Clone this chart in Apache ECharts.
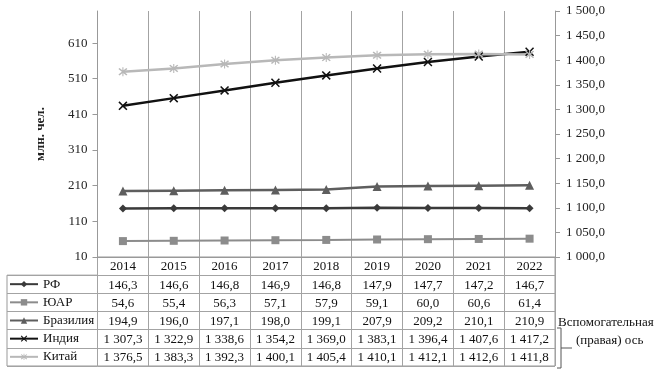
<!DOCTYPE html>
<html>
<head>
	<meta charset="UTF-8">
	<title></title>
	<style>
		html, body { margin: 0; padding: 0; background: #fff; }
		#chart { width: 659px; height: 373px; }
	</style>
	<script src="https://cdn.jsdelivr.net/npm/echarts@6/dist/echarts.min.js"></script>
</head>
<body>
	<div id="chart"></div>
	<script>
		var years = ['2014', '2015', '2016', '2017', '2018', '2019', '2020', '2021', '2022'];
		var rf = [146.3, 146.6, 146.8, 146.9, 146.8, 147.9, 147.7, 147.2, 146.7];
		var yuar = [54.6, 55.4, 56.3, 57.1, 57.9, 59.1, 60.0, 60.6, 61.4];
		var brazil = [194.9, 196.0, 197.1, 198.0, 199.1, 207.9, 209.2, 210.1, 210.9];
		var india = [1307.3, 1322.9, 1338.6, 1354.2, 1369.0, 1383.1, 1396.4, 1407.6, 1417.2];
		var china = [1376.5, 1383.3, 1392.3, 1400.1, 1405.4, 1410.1, 1412.1, 1412.6, 1411.8];
		var names = ['РФ', 'ЮАР', 'Бразилия', 'Индия', 'Китай'];
		var leftTicks = [10, 110, 210, 310, 410, 510, 610];

		var serif = 'Liberation Serif';
		var gridColor = '#a3a3a3';
		var rowH = 109 / 6;

		// russian number format: 1 307,3
		function ru(v) {
			var s = v.toFixed(1).split('.');
			return s[0].replace(/\B(?=(\d{3})+(?!\d))/g, ' ') + ',' + s[1];
		}

		var rows = [rf, yuar, brazil, india, china];
		var rowAxes = rows.map(function (arr, k) {
			return {
				type: 'category',
				gridIndex: 0,
				position: 'bottom',
				offset: rowH * (k + 1),
				data: arr.map(ru),
				axisLine: { show: false },
				axisTick: { show: false },
				splitLine: { show: false },
				axisLabel: { margin: 3, fontFamily: serif, fontSize: 13, color: '#111', lineHeight: 14, interval: 0 }
			};
		});

		var crossPath = 'path://M0,1.2L1.2,0L5,3.8L8.8,0L10,1.2L6.2,5L10,8.8L8.8,10L5,6.2L1.2,10L0,8.8L3.8,5Z';
		var starPath = 'path://M0,1.2L1.2,0L5,3.8L8.8,0L10,1.2L6.2,5L10,8.8L8.8,10L5,6.2L1.2,10L0,8.8L3.8,5ZM4.4,-1L5.6,-1L5.6,11L4.4,11Z';

		var myChart = echarts.init(document.getElementById('chart'));
		myChart.setOption({
			animation: false,
			grid: [
				{ left: 97.5, right: 104, top: 11, bottom: 116 },
				{ left: 97.5, right: 104, top: 257, bottom: 7, show: true, borderColor: '#999', borderWidth: 1 },
				{ left: 7, width: 90.5, top: 257 + rowH, bottom: 7, show: true, borderColor: '#999', borderWidth: 1 }
			],
			legend: {
				orient: 'vertical',
				left: 9,
				top: 257 + rowH + 2,
				padding: 0,
				itemWidth: 28,
				itemHeight: 8,
				itemGap: rowH - 14,
				textStyle: { fontFamily: serif, fontSize: 13, color: '#111', lineHeight: 14 },
				data: names
			},
			xAxis: [
				{
					type: 'category',
					gridIndex: 0,
					position: 'bottom',
					data: years,
					axisLine: { lineStyle: { color: '#999' } },
					axisTick: { show: false },
					splitLine: { show: true, lineStyle: { color: gridColor } },
					axisLabel: { margin: 3, fontFamily: serif, fontSize: 13, color: '#111', lineHeight: 14, interval: 0 }
				},
				{
					type: 'category',
					gridIndex: 1,
					data: years,
					axisLine: { show: false },
					axisTick: { show: false },
					axisLabel: { show: false },
					splitLine: { show: true, interval: 0, lineStyle: { color: gridColor } }
				},
				{ type: 'value', gridIndex: 2, show: false }
			].concat(rowAxes),
			yAxis: [
				{
					type: 'value',
					gridIndex: 0,
					min: 10,
					max: 700,
					interval: 100,
					name: 'млн. чел.',
					nameLocation: 'middle',
					nameRotate: 90,
					nameGap: 50,
					nameTextStyle: { fontFamily: serif, fontSize: 13, fontWeight: 'bold', color: '#222' },
					axisLine: { show: true, lineStyle: { color: '#999' } },
					axisTick: { show: true, length: 5, customValues: leftTicks, lineStyle: { color: '#999' } },
					axisLabel: { margin: 10, customValues: leftTicks, fontFamily: serif, fontSize: 13, color: '#222' },
					splitLine: { show: false }
				},
				{
					type: 'value',
					gridIndex: 0,
					position: 'right',
					min: 1000,
					max: 1500,
					interval: 50,
					axisLine: { show: true, lineStyle: { color: '#999' } },
					axisTick: { show: true, length: 5, lineStyle: { color: '#999' } },
					axisLabel: {
						margin: 11, fontFamily: serif, fontSize: 13, color: '#222',
						formatter: function (v) { return ru(v); }
					},
					splitLine: { show: false }
				},
				{
					type: 'category',
					gridIndex: 1,
					inverse: true,
					data: ['', 'РФ', 'ЮАР', 'Бразилия', 'Индия', 'Китай'],
					axisLine: { show: false },
					axisTick: { show: false },
					axisLabel: { show: false },
					splitLine: { show: true, interval: 0, lineStyle: { color: gridColor } }
				},
				{
					type: 'category',
					gridIndex: 2,
					inverse: true,
					data: names,
					axisLine: { show: false },
					axisTick: { show: false },
					axisLabel: { show: false },
					splitLine: { show: true, interval: 0, lineStyle: { color: gridColor } }
				}
			],
			series: [
				{
					name: 'РФ', type: 'line', xAxisIndex: 0, yAxisIndex: 0, data: rf,
					symbol: 'diamond', symbolSize: 8,
					lineStyle: { color: '#3a3a3a', width: 2.5 },
					itemStyle: { color: '#3a3a3a' }
				},
				{
					name: 'ЮАР', type: 'line', xAxisIndex: 0, yAxisIndex: 0, data: yuar,
					symbol: 'rect', symbolSize: 8,
					lineStyle: { color: '#8c8c8c', width: 2 },
					itemStyle: { color: '#8c8c8c' }
				},
				{
					name: 'Бразилия', type: 'line', xAxisIndex: 0, yAxisIndex: 0, data: brazil,
					symbol: 'triangle', symbolSize: 9,
					lineStyle: { color: '#5e5e5e', width: 2.5 },
					itemStyle: { color: '#5e5e5e' }
				},
				{
					name: 'Индия', type: 'line', xAxisIndex: 0, yAxisIndex: 1, data: india,
					symbol: crossPath, symbolSize: 9,
					lineStyle: { color: '#111', width: 2.5 },
					itemStyle: { color: '#111' }
				},
				{
					name: 'Китай', type: 'line', xAxisIndex: 0, yAxisIndex: 1, data: china,
					symbol: starPath, symbolSize: 9,
					lineStyle: { color: '#b8b8b8', width: 2.5 },
					itemStyle: { color: '#b8b8b8' }
				}
			],
			graphic: [
				{
					type: 'text', left: 558, top: 316,
					style: { text: 'Вспомогательная', font: '13px "Liberation Serif"', fill: '#111' }
				},
				{
					type: 'text', left: 576, top: 334,
					style: { text: '(правая) ось', font: '13px "Liberation Serif"', fill: '#111' }
				},
				{
					type: 'polyline',
					shape: { points: [[557, 328], [561, 328], [561, 368], [557, 368]] },
					style: { stroke: '#555', lineWidth: 1, fill: null }
				},
				{
					type: 'line',
					shape: { x1: 561, y1: 348, x2: 572, y2: 348 },
					style: { stroke: '#555', lineWidth: 1 }
				}
			]
		});
	</script>
</body>
</html>
